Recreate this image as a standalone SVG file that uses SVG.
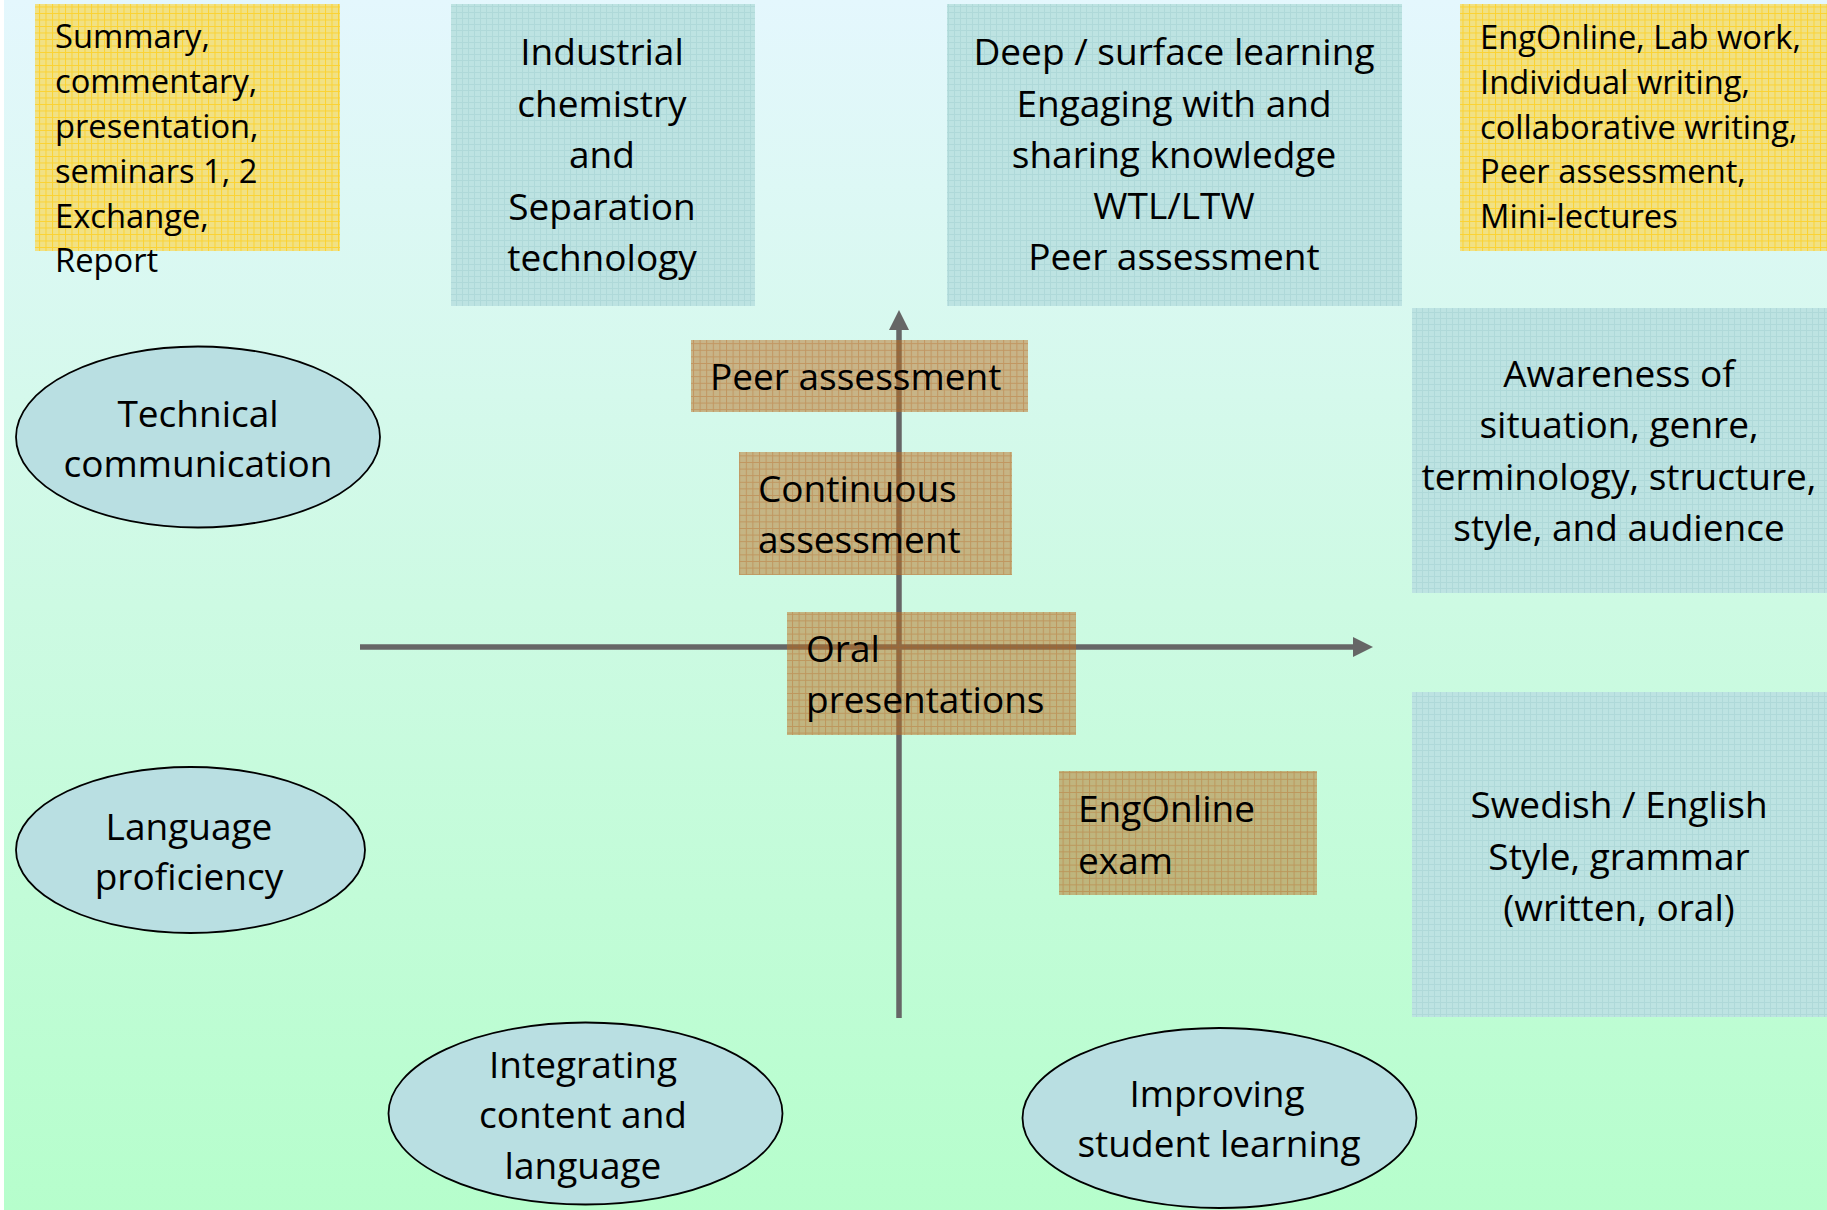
<svg xmlns="http://www.w3.org/2000/svg" width="1827" height="1210" viewBox="0 0 1827 1210">
<defs>
<linearGradient id="bg" x1="0" y1="0" x2="0" y2="1">
<stop offset="0" stop-color="#e4f7fd"/>
<stop offset="0.5" stop-color="#cdfae3"/>
<stop offset="1" stop-color="#b6fecc"/>
</linearGradient>
<pattern id="pBlue" width="6" height="6" patternUnits="userSpaceOnUse">
<rect width="6" height="6" fill="#bde3e2"/>
<path d="M0 0.5H6M0.5 0V6" stroke="#afd9d9" stroke-width="1" fill="none"/>
</pattern>
<pattern id="pYellow" width="6.5" height="6.5" patternUnits="userSpaceOnUse">
<rect width="6.5" height="6.5" fill="#f1e184"/>
<path d="M0 0.5H6.5M0.5 0V6.5" stroke="#fbd232" stroke-width="1" fill="none"/>
</pattern>
<pattern id="pTan" width="6.6" height="6.6" patternUnits="userSpaceOnUse">
<rect width="6.6" height="6.6" fill="rgb(186,112,34)" fill-opacity="0.5"/>
<path d="M0 0.5H6.6M0.5 0V6.6" stroke="rgb(180,95,25)" stroke-opacity="0.35" stroke-width="1" fill="none"/>
</pattern>
<marker id="arr" viewBox="0 0 20 20" markerWidth="20" markerHeight="20" markerUnits="userSpaceOnUse" refX="2" refY="10" orient="auto">
<path d="M0,0 L20,10 L0,20 z" fill="#666666"/>
</marker>
<style>
text{font-family:"Open Sans","Noto Sans",sans-serif;fill:#000}
.t{font-size:37px}
.s{font-size:32.7px}
.c{text-anchor:middle}
.blue{fill:url(#pBlue)}
.yel{fill:url(#pYellow)}
.tan{fill:url(#pTan)}
.ell{fill:#b9dfe2;stroke:#000;stroke-width:1.8}
.axis{stroke:#666666;stroke-width:5.5;fill:none;marker-end:url(#arr)}
</style>
</defs>
<rect x="4" y="0" width="1823" height="1210" fill="url(#bg)"/>

<g id="box-summary">
<rect class="yel" x="35" y="4" width="305" height="247"/>
<text class="s" x="55" y="48">Summary,</text>
<text class="s" x="55" y="93">commentary,</text>
<text class="s" x="55" y="138">presentation,</text>
<text class="s" x="55" y="183">seminars 1, 2</text>
<text class="s" x="55" y="228">Exchange,</text>
<text class="s" x="55" y="272">Report</text>
</g>

<g id="box-industrial">
<rect class="blue" x="451" y="4" width="304" height="302"/>
<text class="t c" x="602" y="65">Industrial</text>
<text class="t c" x="602" y="117">chemistry</text>
<text class="t c" x="602" y="168">and</text>
<text class="t c" x="602" y="220">Separation</text>
<text class="t c" x="602" y="271">technology</text>
</g>

<g id="box-deep">
<rect class="blue" x="947" y="4" width="455" height="302"/>
<text class="t c" x="1174" y="65">Deep / surface learning</text>
<text class="t c" x="1174" y="117">Engaging with and</text>
<text class="t c" x="1174" y="168">sharing knowledge</text>
<text class="t c" x="1174" y="219">WTL/LTW</text>
<text class="t c" x="1174" y="270">Peer assessment</text>
</g>

<g id="box-engonline">
<rect class="yel" x="1460" y="4" width="367" height="247"/>
<text class="s" x="1480" y="49">EngOnline, Lab work,</text>
<text class="s" x="1480" y="94">Individual writing,</text>
<text class="s" x="1480" y="139">collaborative writing,</text>
<text class="s" x="1480" y="183">Peer assessment,</text>
<text class="s" x="1480" y="228">Mini-lectures</text>
</g>

<g id="box-awareness">
<rect class="blue" x="1412" y="308" width="415" height="285"/>
<text class="t c" x="1619" y="387">Awareness of</text>
<text class="t c" x="1619" y="438">situation, genre,</text>
<text class="t c" x="1619" y="490">terminology, structure,</text>
<text class="t c" x="1619" y="541">style, and audience</text>
</g>

<g id="box-swedish">
<rect class="blue" x="1412" y="692" width="415" height="325"/>
<text class="t c" x="1619" y="818">Swedish / English</text>
<text class="t c" x="1619" y="870">Style, grammar</text>
<text class="t c" x="1619" y="921">(written, oral)</text>
</g>

<g id="ell-technical">
<ellipse class="ell" cx="198" cy="437" rx="182" ry="90.5"/>
<text class="t c" x="198" y="427">Technical</text>
<text class="t c" x="198" y="477">communication</text>
</g>

<g id="ell-language">
<ellipse class="ell" cx="190.5" cy="850" rx="174.5" ry="83"/>
<text class="t c" x="189" y="840">Language</text>
<text class="t c" x="189" y="890">proficiency</text>
</g>

<g id="ell-integrating">
<ellipse class="ell" cx="585.5" cy="1113.5" rx="197" ry="91"/>
<text class="t c" x="583" y="1078">Integrating</text>
<text class="t c" x="583" y="1128">content and</text>
<text class="t c" x="583" y="1179">language</text>
</g>

<g id="ell-improving">
<ellipse class="ell" cx="1219.5" cy="1118" rx="197" ry="90"/>
<text class="t c" x="1217" y="1107">Improving</text>
<text class="t c" x="1219" y="1157">student learning</text>
</g>

<g id="connectors">
<line class="axis" x1="360" y1="647" x2="1355" y2="647"/>
<line class="axis" x1="899" y1="1018" x2="899" y2="328"/>
</g>

<g id="box-peer">
<rect class="tan" x="691" y="340" width="337" height="72"/>
<text class="t" x="710" y="390">Peer assessment</text>
</g>

<g id="box-continuous">
<rect class="tan" x="739" y="452" width="273" height="123"/>
<text class="t" x="758" y="502">Continuous</text>
<text class="t" x="758" y="553">assessment</text>
</g>

<g id="box-oral">
<rect class="tan" x="787" y="612" width="289" height="123"/>
<text class="t" x="806" y="662">Oral</text>
<text class="t" x="806" y="713">presentations</text>
</g>

<g id="box-exam">
<rect class="tan" x="1059" y="771" width="258" height="124"/>
<text class="t" x="1078" y="822">EngOnline</text>
<text class="t" x="1078" y="874">exam</text>
</g>
</svg>
